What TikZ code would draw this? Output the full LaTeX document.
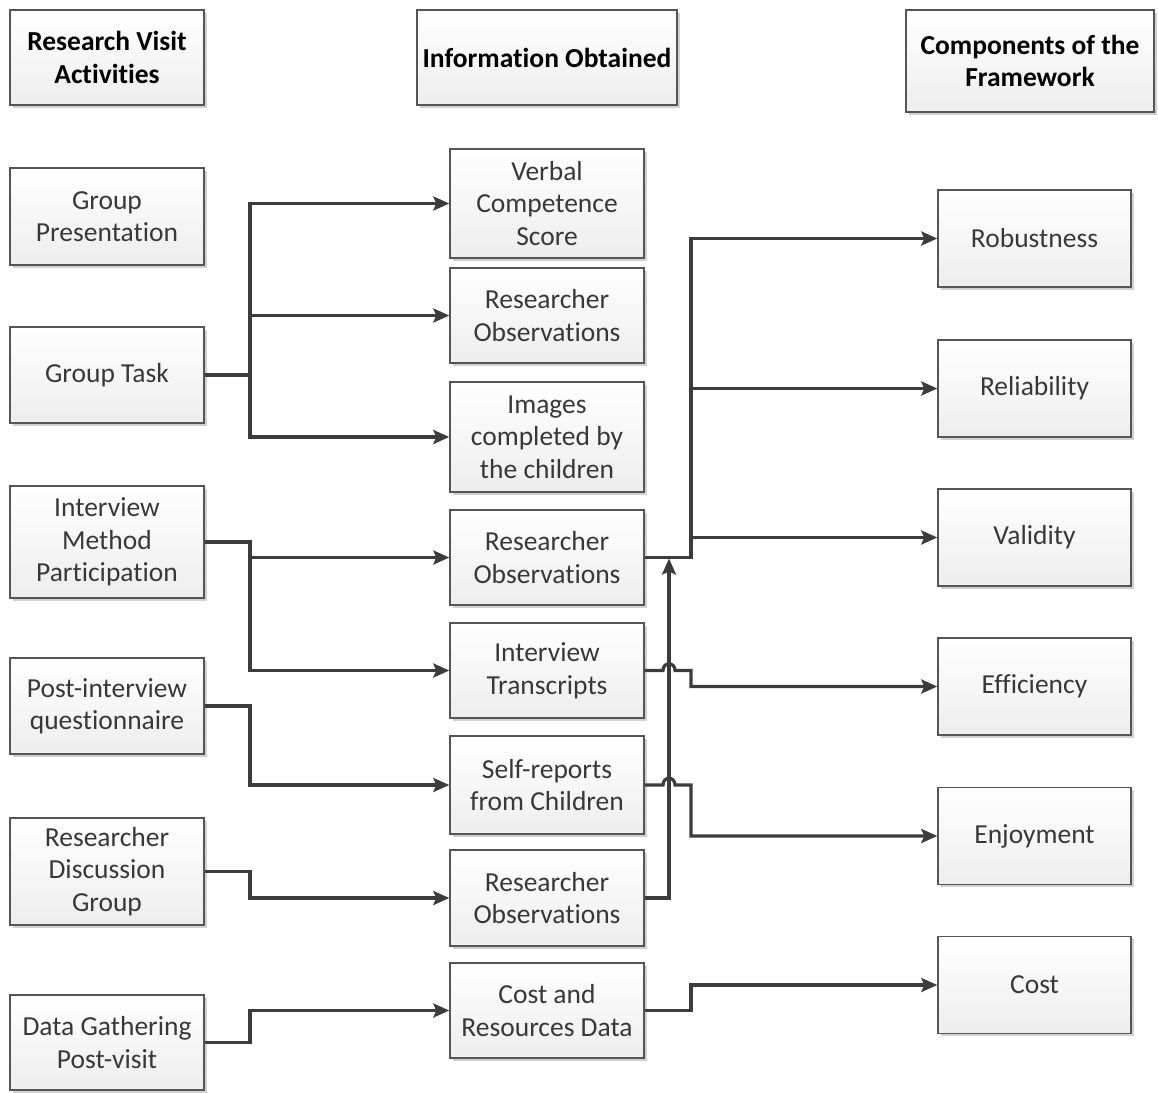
\documentclass[tikz,border=0pt]{standalone}
\usepackage{fontspec}
\setmainfont{Carlito}[Ligatures=NoCommon]
\usetikzlibrary{arrows.meta,shadows,calc}
\definecolor{linec}{HTML}{3C3C3C}
\definecolor{txtc}{HTML}{383838}
\definecolor{bordc}{HTML}{555555}
\tikzset{
  box/.style={draw=bordc, line width=1.4pt, top color=white, bottom color=black!7,
    drop shadow={shadow xshift=2.5pt, shadow yshift=-2.5pt, opacity=0.18, fill=black},
    align=center, text=txtc, font=\fontsize{27.5}{32.5}\selectfont, inner sep=0pt},
  hdr/.style={box, text=black, font=\fontsize{27.5}{32.5}\selectfont\bfseries},
  lbox/.style={box, minimum width=194pt},
  mbox/.style={box, minimum width=194pt},
  rbox/.style={box, minimum width=193pt, minimum height=97pt},
  conn/.style={draw=linec, line width=3.2pt},
  arr/.style={conn, -{Stealth[length=16pt, width=14pt, inset=3pt]}},
}
\begin{document}
\begin{tikzpicture}[x=1pt,y=-1pt]
\useasboundingbox (0,0) rectangle (1158,1092);
% headers
\node[hdr, minimum width=194pt, minimum height=95pt] (h1) at (107,57.5) {Research Visit\\Activities};
\node[hdr, minimum width=260pt, minimum height=95pt] (h2) at (547,57.5) {Information Obtained};
\node[hdr, minimum width=248pt, minimum height=102pt] (h3) at (1030,61) {Components of the\\Framework};
% left column
\node[lbox, minimum height=97pt] (gp) at (107,216.5) {Group\\Presentation};
\node[lbox, minimum height=96pt] (gt) at (107,375) {Group Task};
\node[lbox, minimum height=112pt] (imp) at (107,542) {Interview\\Method\\Participation};
\node[lbox, minimum height=96pt] (pq) at (107,706) {Post-interview\\questionnaire};
\node[lbox, minimum height=107pt] (rdg) at (107,871.5) {Researcher\\Discussion\\Group};
\node[lbox, minimum height=95pt] (dg) at (107,1042.5) {Data Gathering\\Post-visit};
% middle column
\node[mbox, minimum height=109pt] (vcs) at (547,203.5) {Verbal\\Competence\\Score};
\node[mbox, minimum height=95pt] (ro1) at (547,315.5) {Researcher\\Observations};
\node[mbox, minimum height=110pt] (img) at (547,437) {Images\\completed by\\the children};
\node[mbox, minimum height=95pt] (ro2) at (547,557.5) {Researcher\\Observations};
\node[mbox, minimum height=95pt] (it) at (547,670.5) {Interview\\Transcripts};
\node[mbox, minimum height=98pt] (sr) at (547,785) {Self-reports\\from Children};
\node[mbox, minimum height=96pt] (ro3) at (547,898) {Researcher\\Observations};
\node[mbox, minimum height=95pt] (crd) at (547,1010.5) {Cost and\\Resources Data};
% right column
\node[rbox] (rob) at (1034.5,238.5) {Robustness};
\node[rbox] (rel) at (1034.5,388.5) {Reliability};
\node[rbox] (val) at (1034.5,537.5) {Validity};
\node[rbox] (eff) at (1034.5,686.5) {Efficiency};
\node[rbox] (enj) at (1034.5,836) {Enjoyment};
\node[rbox] (cst) at (1034.5,985) {Cost};
% bus coordinates
\coordinate (busL) at (250,0);
\coordinate (busM) at (669,0);
\coordinate (busR) at (691,0);
% left connectors
\draw[arr] (gt.east) -- (gt.east -| busL) |- (vcs.west);
\draw[arr] (gt.east -| busL) |- (ro1.west);
\draw[arr] (gt.east -| busL) |- (img.west);
\draw[arr] (imp.east) -- (imp.east -| busL) |- (ro2.west);
\draw[arr] (imp.east -| busL) |- (it.west);
\draw[arr] (pq.east) -- (pq.east -| busL) |- (sr.west);
\draw[arr] (rdg.east) -- (rdg.east -| busL) |- (ro3.west);
\draw[arr] (dg.east) -- (dg.east -| busL) |- (crd.west);
% right connectors
\draw[arr] (ro2.east) -- (ro2.east -| busR) |- (rob.west);
\draw[arr] (ro2.east -| busR) |- (rel.west);
\draw[arr] (ro2.east -| busR) |- (val.west);
\draw[arr, shorten >=1pt] (ro3.east) -- (ro3.east -| busM) -- (ro2.east -| busM);
\draw[arr] (it.east) -- ($(it.east -| busM)+(-6,0)$)
  .. controls ($(it.east -| busM)+(-6,-9)$) and ($(it.east -| busM)+(6,-9)$) .. ($(it.east -| busM)+(6,0)$)
  -- (it.east -| busR) |- (eff.west);
\draw[arr] (sr.east) -- ($(sr.east -| busM)+(-6,0)$)
  .. controls ($(sr.east -| busM)+(-6,-9)$) and ($(sr.east -| busM)+(6,-9)$) .. ($(sr.east -| busM)+(6,0)$)
  -- (sr.east -| busR) |- (enj.west);
\draw[arr] (crd.east) -- (crd.east -| busR) |- (cst.west);
\end{tikzpicture}
\end{document}
